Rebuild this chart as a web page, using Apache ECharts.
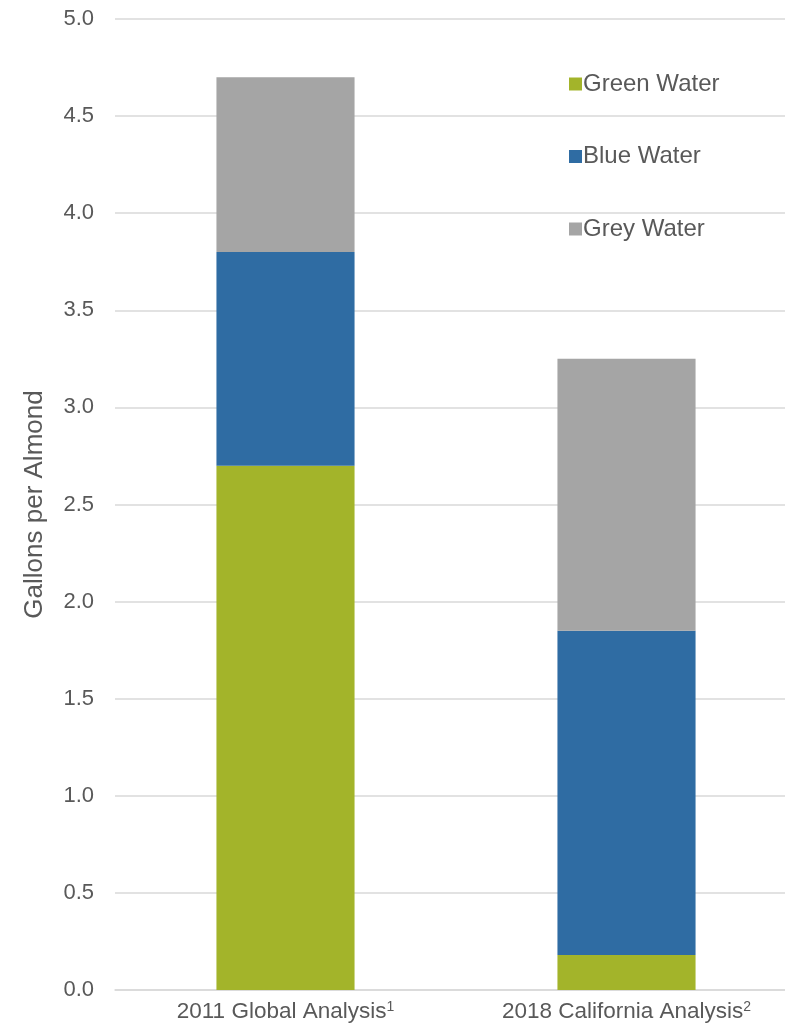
<!DOCTYPE html>
<html>
<head>
<meta charset="utf-8">
<script src="https://cdn.jsdelivr.net/npm/echarts@6/dist/echarts.min.js"></script>
<style>
  html, body { margin: 0; padding: 0; background: #fff; overflow: hidden; }
  #chart { width: 785px; height: 1032px; }
</style>
</head>
<body>
<div id="chart"></div>
<script>
// Water footprint of one almond, split by water type
const categories = ['2011 Global Analysis', '2018 California Analysis'];
const footnotes = ['1', '2'];
const greenWater = [2.7, 0.18];
const blueWater = [1.1, 1.67];
const greyWater = [0.9, 1.4];

const colors = { green: '#a3b42a', blue: '#2f6ca3', grey: '#a5a5a5' };
const textColor = '#595959';

const chart = echarts.init(document.getElementById('chart'));

function stackSeries(name, data, color) {
  return {
    name: name,
    type: 'bar',
    stack: 'water',
    data: data,
    barWidth: '40.5%',
    itemStyle: { color: color },
    emphasis: { disabled: true }
  };
}

chart.setOption({
  animation: false,
  textStyle: { fontFamily: 'Liberation Sans, Arial, sans-serif' },
  // plot area runs past the right edge so the gridlines bleed off the page
  grid: { left: 115, top: 19, width: 682, height: 971, outerBoundsMode: 'none' },
  legend: {
    orient: 'vertical',
    left: 564,
    top: 67,
    itemWidth: 13,
    itemHeight: 13,
    itemGap: 48.5,
    icon: 'rect',
    textStyle: { fontSize: 24, color: textColor, padding: [0, 0, 0, -4] },
    data: ['Green Water', 'Blue Water', 'Grey Water']
  },
  xAxis: {
    type: 'category',
    data: categories,
    axisTick: { show: false },
    axisLine: { lineStyle: { color: '#d9d9d9', width: 1.5 } },
    axisLabel: {
      margin: 10,
      formatter: function (value, idx) {
        return '{t|' + value + '}{s|' + footnotes[idx] + '}';
      },
      rich: {
        t: { fontSize: 22.5, color: textColor },
        s: { fontSize: 14, color: textColor, verticalAlign: 'top', padding: [0, 0, 10, 0] }
      }
    }
  },
  yAxis: {
    type: 'value',
    min: 0,
    max: 5,
    interval: 0.5,
    name: 'Gallons per Almond',
    nameLocation: 'middle',
    nameGap: 67,
    nameTextStyle: { fontSize: 26, color: textColor },
    axisLabel: {
      margin: 21,
      fontSize: 22,
      color: textColor,
      formatter: function (v) { return v.toFixed(1); }
    },
    axisLine: { show: false },
    axisTick: { show: false },
    splitLine: { lineStyle: { color: '#d9d9d9', width: 1.5 } }
  },
  series: [
    stackSeries('Green Water', greenWater, colors.green),
    stackSeries('Blue Water', blueWater, colors.blue),
    stackSeries('Grey Water', greyWater, colors.grey)
  ]
});
</script>
</body>
</html>
